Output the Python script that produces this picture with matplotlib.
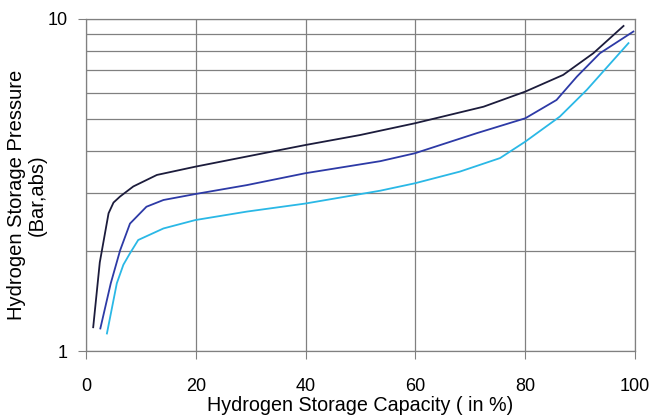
import matplotlib.pyplot as plt
from matplotlib.ticker import FixedLocator, NullFormatter

plt.rcParams['font.family'] = ['Liberation Sans', 'DejaVu Sans']

# Dark curve
x_dark = [1.3, 2.5, 4.1, 5.0, 6.2, 8.6, 12.9, 19.9, 32.3, 39.9, 49.9, 59.9, 72.4, 80.0, 86.9, 92.4, 97.9]
p_dark = [1.18, 1.85, 2.60, 2.80, 2.92, 3.13, 3.39, 3.59, 3.94, 4.17, 4.47, 4.85, 5.44, 6.04, 6.78, 7.88, 9.52]

# Blue curve
x_blue = [2.6, 4.5, 6.2, 8.0, 11.0, 14.1, 19.9, 29.3, 39.9, 53.6, 59.9, 71.2, 80.0, 85.7, 89.4, 93.6, 99.7]
p_blue = [1.17, 1.60, 2.01, 2.42, 2.72, 2.85, 2.97, 3.16, 3.43, 3.73, 3.94, 4.53, 5.02, 5.70, 6.70, 7.88, 9.16]

# Light blue curve
x_light = [3.8, 5.6, 6.8, 8.0, 9.5, 14.1, 19.9, 29.3, 39.9, 53.6, 59.9, 68.1, 75.4, 80.0, 86.3, 91.2, 98.8]
p_light = [1.13, 1.60, 1.82, 1.97, 2.16, 2.34, 2.48, 2.63, 2.78, 3.04, 3.20, 3.47, 3.81, 4.27, 5.08, 6.11, 8.45]

xticks = [0, 20, 40, 60, 80, 100]

fig = plt.figure(figsize=(6.52, 4.19), dpi=100)
ax = fig.add_axes([0.132, 0.162, 0.842, 0.793])

ax.plot(x_dark, p_dark, color='#1c1c3c', lw=1.3)
ax.plot(x_blue, p_blue, color='#2d3aa6', lw=1.3)
ax.plot(x_light, p_light, color='#2ab8e6', lw=1.3)

ax.set_yscale('log')
ax.set_xlim(0, 100)
ax.set_ylim(1, 10)
ax.set_xticks(xticks)
ax.set_yticks([1, 10])
ax.set_yticklabels(['1', '10'])
ax.yaxis.set_minor_locator(FixedLocator([2, 3, 4, 5, 6, 7, 8, 9]))
ax.yaxis.set_minor_formatter(NullFormatter())
ax.tick_params(axis='y', which='minor', length=0)
ax.tick_params(which='major', direction='out', length=6, color='#808080',
               labelsize=13)
ax.tick_params(axis='x', pad=13)
ax.tick_params(axis='y', pad=7)

ax.grid(True, which='both', color='#808080', lw=0.9)
for s in ax.spines.values():
    s.set_color('#808080')
    s.set_linewidth(0.9)

ax.set_xlabel('Hydrogen Storage Capacity ( in %)', fontsize=14.2)
ax.xaxis.set_label_coords(0.5, -0.136)
ax.set_ylabel('Hydrogen Storage Pressure\n(Bar,abs)', fontsize=14.5, linespacing=1.1)
ax.yaxis.set_label_coords(-0.072, 0.47)

fig.savefig('out.png', dpi=100)
